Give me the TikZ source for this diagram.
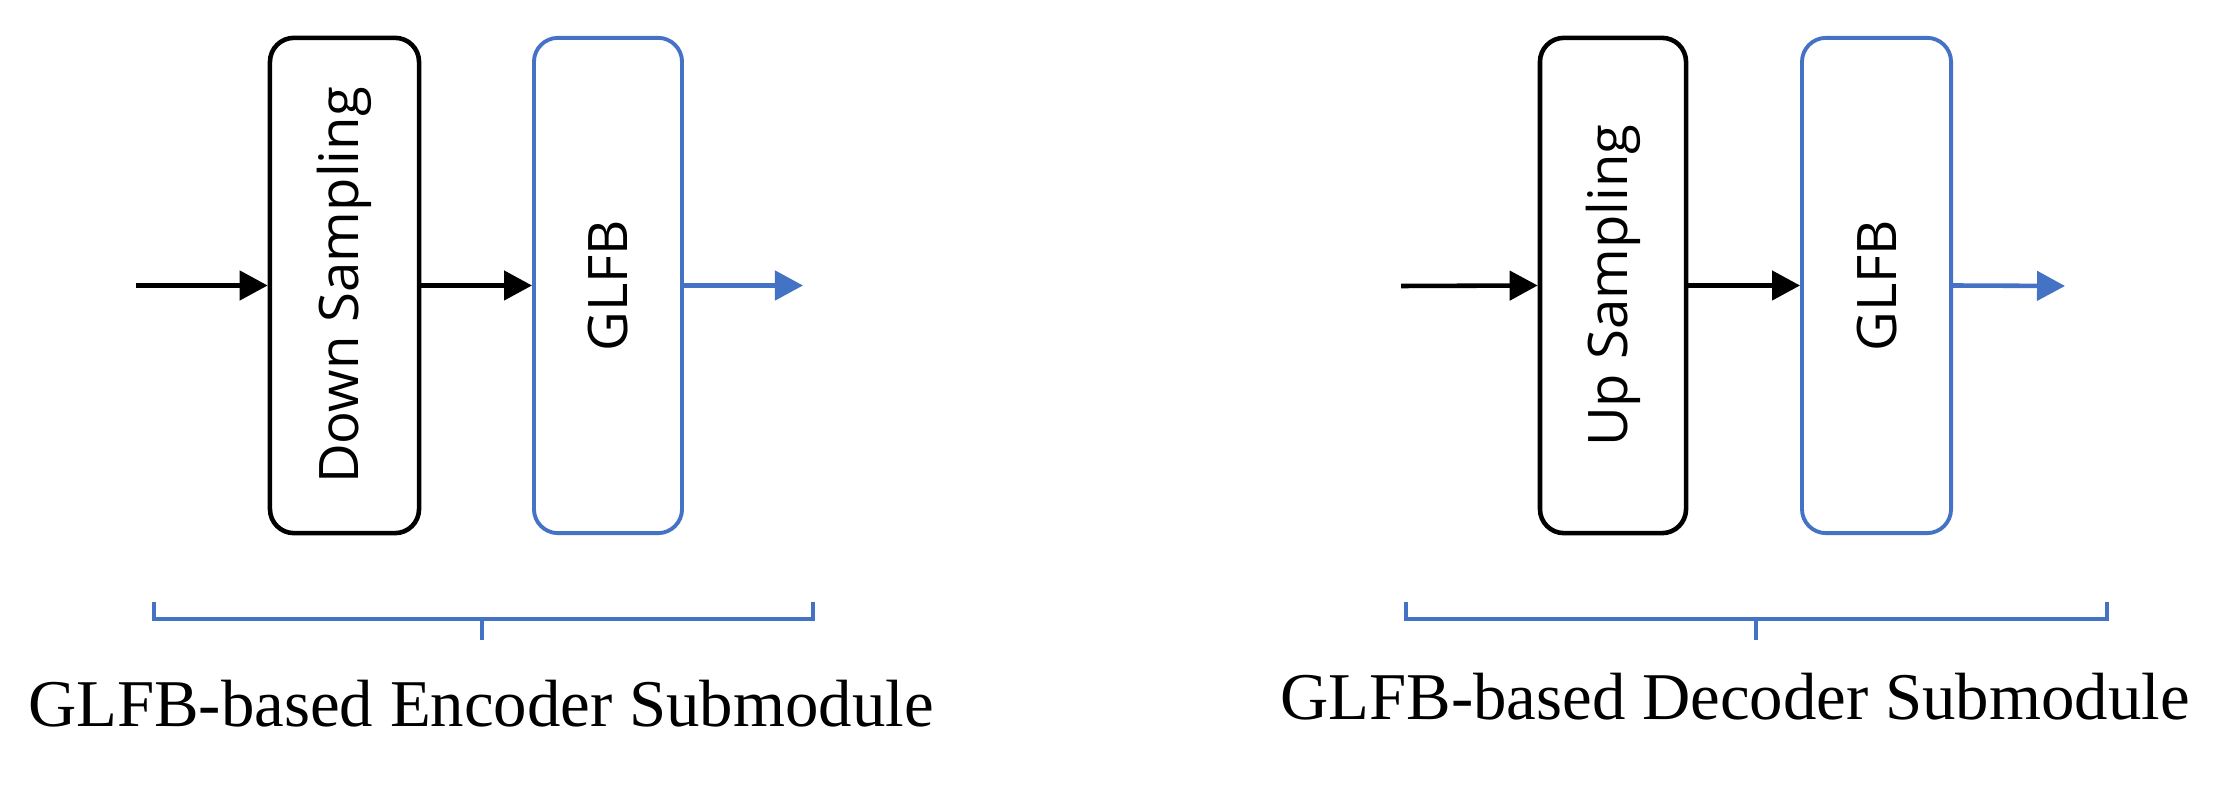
\documentclass[tikz,border=0pt]{standalone}
\usepackage{fontspec}
\setmainfont{Liberation Serif}
\newfontfamily\boxfont{Open Sans}
\usetikzlibrary{arrows.meta}
\definecolor{obl}{RGB}{68,114,196}
\tikzset{
  blk/.style={draw=black, line width=1.3pt, rounded corners=0.24cm, minimum height=4.95cm, inner sep=0pt},
  blu/.style={draw=obl, line width=1.1pt, rounded corners=0.24cm, minimum height=4.95cm, inner sep=0pt},
  lbl/.style={rotate=90, font=\boxfont\fontsize{15.5pt}{18pt}\selectfont, inner sep=0pt},
  arr/.style={line width=1.3pt, -{Triangle[length=0.28cm, width=0.29cm]}},
  barr/.style={arr, draw=obl, fill=obl},
  brace/.style={draw=obl, line width=1pt},
  captext/.style={font=\fontsize{19pt}{22pt}\selectfont, inner sep=0pt}
}
\begin{document}
\begin{tikzpicture}[x=0.01cm, y=-0.01cm]
\useasboundingbox (0,0) rectangle (2222,795);
\fill[white] (0,0) rectangle (2222,795);
% encoder
\node[blk, minimum width=1.49cm] (down) at (344.5,285.5) {};
\node[lbl] (downt) at (down) {Down Sampling};
\node[blu, minimum width=1.48cm] (g1) at (608,285.5) {};
\node[lbl] (g1t) at (g1) {GLFB};
\coordinate (in1) at (136,285.5);
\coordinate (out1) at (803,285.5);
\draw[arr] (in1) -- (down.west);
\draw[arr] (down.east) -- (g1.west);
\draw[barr] (g1.east) -- (out1);
% decoder
\node[blk, minimum width=1.46cm] (up) at (1613,285.5) {};
\node[lbl] (upt) at (up) {Up Sampling};
\node[blu, minimum width=1.49cm] (g2) at (1876.5,285.5) {};
\node[lbl] (g2t) at (g2) {GLFB};
\coordinate (in2) at (1401,286);
\coordinate (out2) at (2065,286);
\draw[arr] (in2) -- (up.west);
\draw[arr] (up.east) -- (g2.west);
\draw[barr] (g2.east) -- (out2);
% braces
\draw[brace] (154,602) -- (154,619) -- (813,619) -- (813,602);
\draw[brace] (482,619) -- (482,640);
\draw[brace] (1406,602) -- (1406,619) -- (2107,619) -- (2107,602);
\draw[brace] (1756,619) -- (1756,640);
\node[captext] (enc) at (481,704) {GLFB-based Encoder Submodule};
\node[captext] (dec) at (1735,697) {GLFB-based Decoder Submodule};
\end{tikzpicture}
\end{document}
